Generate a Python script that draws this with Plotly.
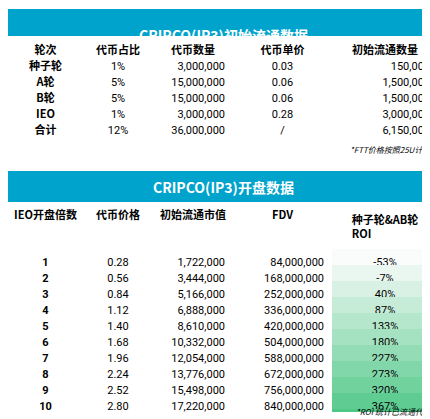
import plotly.graph_objects as go
from plotly.colors import sample_colorscale

# table 1: initial circulation
rounds = ["种子轮", "A轮", "B轮", "IEO", "合计"]
share = ["1%", "5%", "5%", "1%", "12%"]
amount = ["3,000,000", "15,000,000", "15,000,000", "3,000,000", "36,000,000"]
unit_price = ["0.03", "0.06", "0.06", "0.28", "/"]
init_circ = ["150,000", "1,500,000", "1,500,000", "3,000,000", "6,150,000"]

# table 2: listing data
multiple = [str(i) for i in range(1, 13)]
price = ["0.28", "0.56", "0.84", "1.12", "1.40", "1.68", "1.96", "2.24", "2.52", "2.80", "3.08", "3.36"]
mcap = ["1,722,000", "3,444,000", "5,166,000", "6,888,000", "8,610,000", "10,332,000",
        "12,054,000", "13,776,000", "15,498,000", "17,220,000", "18,942,000", "20,664,000"]
fdv = ["84,000,000", "168,000,000", "252,000,000", "336,000,000", "420,000,000", "504,000,000",
       "588,000,000", "672,000,000", "756,000,000", "840,000,000", "924,000,000", "1,008,000,000"]
roi = [-53, -7, 40, 87, 133, 180, 227, 273, 320, 367, 413, 460]

W, H = 430, 419
BLUE = "#00A3CC"
FONT = "Noto Sans CJK SC"
NUM_FONT = "Roboto, Noto Sans CJK SC"
CLEAR = "rgba(0,0,0,0)"
widths = [75, 70, 80, 99, 106]
row_h = 16

lo, hi = min(roi), max(roi)
roi_colors = sample_colorscale([[0, "#FAFCFB"], [1, "#3DC27B"]], [(v - lo) / (hi - lo) for v in roi])


def ydom(top, bottom):
    return [1 - bottom / H, 1 - top / H]


fig = go.Figure()

# title bars
for top, bottom, text in [(1, 28, "CRIPCO(IP3)初始流通数据"), (163, 194, "CRIPCO(IP3)开盘数据")]:
    fig.add_shape(type="rect", xref="paper", yref="paper", x0=0, x1=1,
                  y0=1 - bottom / H, y1=1 - top / H, fillcolor=BLUE, line_width=0, layer="below")
    fig.add_annotation(x=0.5, y=1 - (top + bottom) / 2 / H, xref="paper", yref="paper",
                       text=f"<b>{text}</b>", showarrow=False,
                       font=dict(family=FONT, size=14, color="white"))

fig.add_trace(go.Table(
    domain=dict(x=[0, 1], y=ydom(30, 128)),
    columnwidth=widths,
    header=dict(values=["轮次", "代币占比", "代币数量", "代币单价", "初始流通数量"],
                align="center", height=row_h, fill_color=CLEAR, line_width=0,
                font=dict(family=FONT, size=11, color="black", weight="bold")),
    cells=dict(values=[rounds, share, amount, unit_price, init_circ],
               align=["center", "center", "right", "center", "right"], height=row_h,
               fill_color=CLEAR, line_width=0,
               font=dict(family=[FONT, NUM_FONT, NUM_FONT, NUM_FONT, NUM_FONT], size=11, color="black",
                         weight=["bold", "normal", "normal", "normal", "normal"])),
))

fig.add_trace(go.Table(
    domain=dict(x=[0, 1], y=ydom(195, 404)),
    columnwidth=widths,
    header=dict(values=["IEO开盘倍数", "代币价格", "初始流通市值", "FDV", "种子轮&AB轮 ROI"],
                align="center", height=row_h, fill_color=CLEAR, line_width=0,
                font=dict(family=FONT, size=11, color="black", weight="bold")),
    cells=dict(values=[multiple, price, mcap, fdv, [f"{v}%" for v in roi]],
               align=["center", "center", "right", "right", "center"], height=row_h,
               fill_color=[[CLEAR] * 12] * 4 + [roi_colors], line_width=0,
               font=dict(family=[NUM_FONT] * 5, size=11, color="black",
                         weight=["bold", "normal", "normal", "normal", "normal"])),
))

for y, text in [(141, "*FTT价格按照25U计算"), (411, "*ROI 统计已流通代币")]:
    fig.add_annotation(x=0.99, y=1 - y / H, xref="paper", yref="paper", xanchor="right",
                       text=f"<i>{text}</i>", showarrow=False,
                       font=dict(family=FONT, size=8, color="black"))

fig.update_layout(width=W, height=H, margin=dict(l=0, r=0, t=0, b=0),
                  paper_bgcolor="white", plot_bgcolor="white")

fig.write_html("out.html")
